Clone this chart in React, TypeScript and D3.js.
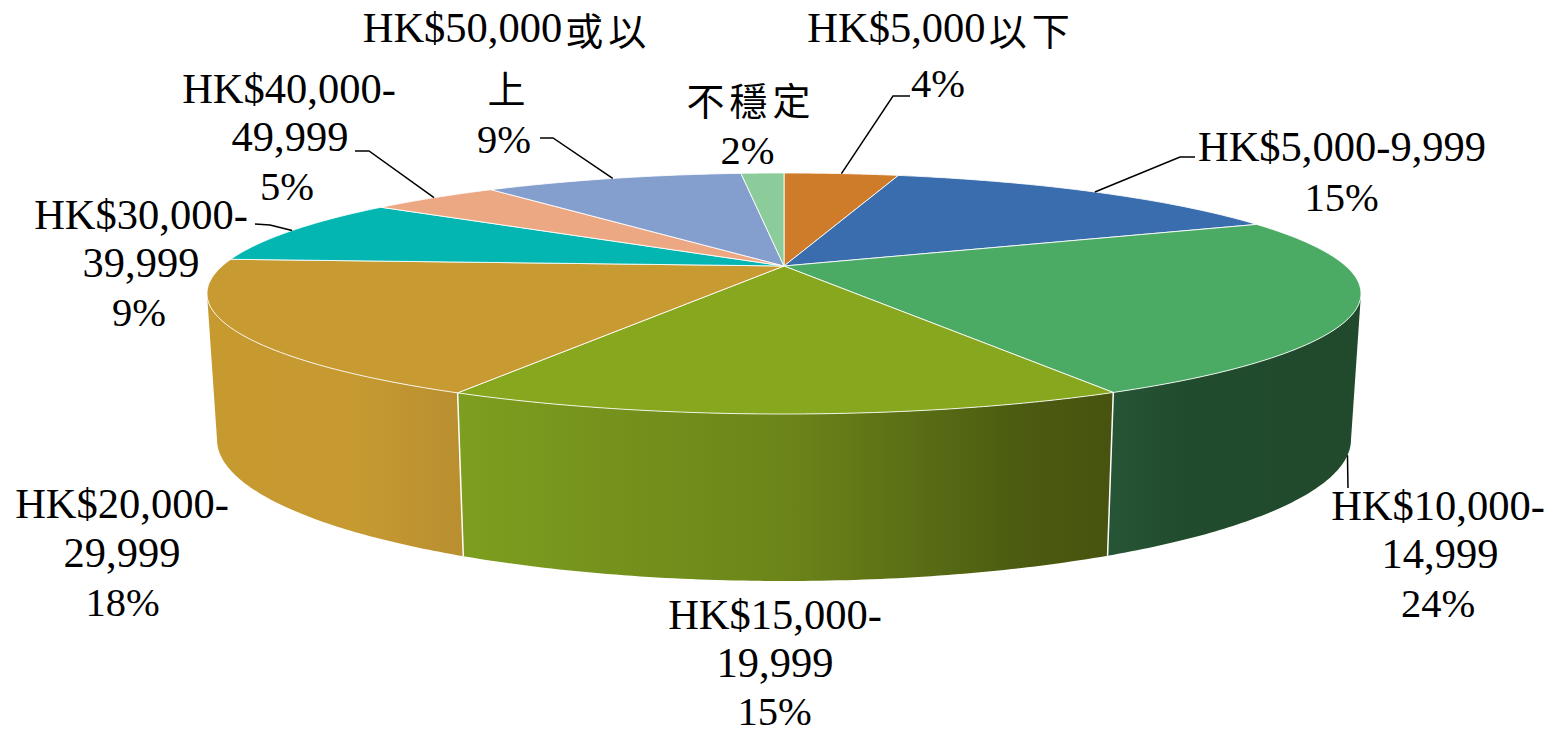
import React from "react";
import * as d3 from "d3";

const W = 1557;
const H = 731;

// Data, in pie order, clockwise from 12 o'clock
const categories = [
  "HK$5,000以下",
  "HK$5,000-9,999",
  "HK$10,000-14,999",
  "HK$15,000-19,999",
  "HK$20,000-29,999",
  "HK$30,000-39,999",
  "HK$40,000-49,999",
  "HK$50,000或以上",
  "不穩定",
];
const shares = [4.0, 14.5, 23.75, 15.42, 18.28, 8.95, 4.55, 9.05, 1.5];
const shareLabels = ["4%", "15%", "24%", "15%", "18%", "9%", "5%", "9%", "2%"];
const labelLines = [
  ["HK$5,000以下", "4%"],
  ["HK$5,000-9,999", "15%"],
  ["HK$10,000-", "14,999", "24%"],
  ["HK$15,000-", "19,999", "15%"],
  ["HK$20,000-", "29,999", "18%"],
  ["HK$30,000-", "39,999", "9%"],
  ["HK$40,000-", "49,999", "5%"],
  ["HK$50,000或以", "上", "9%"],
  ["不穩定", "2%"],
];

// Styles and layout
const topColors = ["#CE7C2A", "#3A6DAD", "#4BAB64", "#87A81E", "#C89B32", "#03B6B1", "#EBA882", "#849FCE", "#8CCB9A"];
const wallStops: Record<number, [number, string][]> = {
  2: [[0, "#255535"], [0.3, "#214B2D"], [1, "#204A2B"]],
  3: [[0, "#7D9E1F"], [0.5, "#6C8519"], [0.85, "#4C5C11"], [1, "#47530F"]],
  4: [[0, "#C79A30"], [0.6, "#C69A31"], [1, "#B98F30"]],
};
const labelX = [
  [941, 938],
  [1342, 1341.5],
  [1438, 1440, 1438],
  [775, 775, 774.5],
  [122, 122, 122.5],
  [141, 141, 139],
  [289, 290, 287],
  [507, 506, 504],
  [748, 747.5],
];
const labelY = [
  [42, 97],
  [161, 211],
  [520, 568, 617],
  [629, 677, 725],
  [518, 567, 616],
  [229, 277, 326],
  [103, 151, 200],
  [42, 100, 153],
  [112, 164],
];
const leaderEnds: ([number, number][] | null)[] = [
  [[893, 96], [910, 96]],
  [[1180, 157], [1195, 157]],
  [[1348, 488]],
  null,
  null,
  [[270, 225], [255, 224]],
  [[369, 151], [355, 151]],
  [[553, 138], [540, 138]],
  null,
];

const FONT_SIZE = 42.5;
const PCT_FONT_SIZE = 40.5;
const cx = 784;
const topEllipse = { cy: 293.5, rx: 577, ry: 120.5 };
const lowEllipse = { cy: 439.5, rx: 567, ry: 141.5 };
const k = 27.5 / 120.5; // perspective: moves the pie centre up inside its ellipse

function project(angle: number, e: { cy: number; rx: number; ry: number }, r = 1): [number, number] {
  const u = r * Math.sin(angle);
  const v = -r * Math.cos(angle);
  const d = 1 - k * v;
  return [cx + (e.rx * Math.sqrt(1 - k * k) * u) / d, e.cy + (e.ry * (v - k)) / d];
}

const arcs = d3.pie<number>().sort(null).value((d) => d)(shares);
const line = d3.line();
const sample = (a0: number, a1: number, e: typeof topEllipse) =>
  d3.range(0, 81).map((i) => project(a0 + ((a1 - a0) * i) / 80, e));

const frontStart = Math.acos(-k);
const frontEnd = 2 * Math.PI - frontStart;

function isCJK(ch: string) {
  return /[\u3400-\u9fff]/.test(ch);
}

function Label({ text, x, y }: { text: string; x: number; y: number }) {
  const runs: { s: string; cjk: boolean }[] = [];
  for (const ch of text) {
    const c = isCJK(ch);
    const last = runs[runs.length - 1];
    if (last && last.cjk === c) last.s += ch;
    else runs.push({ s: ch, cjk: c });
  }
  const size = text.endsWith("%") ? PCT_FONT_SIZE : FONT_SIZE;
  return (
    <text x={x} y={y} textAnchor="middle" fontSize={size} fill="#000" fontFamily="'Liberation Serif', serif">
      {runs.map((r, i) =>
        r.cjk ? (
          <tspan key={i} fontFamily="'Noto Sans CJK TC'" fontWeight={400} fontSize={38} letterSpacing={5} dx={3} dy={2.5}>
            {r.s}
          </tspan>
        ) : (
          <tspan key={i}>{r.s}</tspan>
        )
      )}
    </text>
  );
}

export default function App() {
  const centre = project(0, topEllipse, 0);
  return (
    <svg
      width={W}
      height={H}
      viewBox={`0 0 ${W} ${H}`}
      style={{ position: "absolute", left: 0, top: 0, background: "#fff" }}
      role="img"
      aria-label={categories.map((c, i) => `${c} ${shareLabels[i]}`).join(", ")}
    >
      <defs>
        {Object.entries(wallStops).map(([key, stops]) => {
          const i = +key;
          const a0 = Math.max(arcs[i].startAngle, frontStart);
          const a1 = Math.min(arcs[i].endAngle, frontEnd);
          const xs = [project(a0, topEllipse)[0], project(a1, topEllipse)[0]];
          return (
            <linearGradient key={i} id={`wall${i}`} gradientUnits="userSpaceOnUse" x1={Math.min(...xs)} x2={Math.max(...xs)} y1={0} y2={0}>
              {stops.map(([o, c], j) => (
                <stop key={j} offset={o} stopColor={c} />
              ))}
            </linearGradient>
          );
        })}
      </defs>

      {/* Front walls */}
      {arcs.map((a, i) => {
        const a0 = Math.max(a.startAngle, frontStart);
        const a1 = Math.min(a.endAngle, frontEnd);
        if (a1 <= a0) return null;
        const pts = [...sample(a0, a1, topEllipse), ...sample(a1, a0, lowEllipse)];
        return <path key={i} d={line(pts) + "Z"} fill={`url(#wall${i})`} />;
      })}
      {/* White seams between walls */}
      {arcs.map((a, i) => {
        if (a.startAngle <= frontStart || a.startAngle >= frontEnd) return null;
        return (
          <path
            key={i}
            d={line([project(a.startAngle, topEllipse), project(a.startAngle, lowEllipse)]) as string}
            stroke="#fff"
            strokeWidth={1.5}
            fill="none"
          />
        );
      })}

      {/* Top face */}
      {arcs.map((a, i) => (
        <path
          key={i}
          d={line([centre, ...sample(a.startAngle, a.endAngle, topEllipse)]) + "Z"}
          fill={topColors[i]}
          stroke="#fff"
          strokeOpacity={0.85}
          strokeWidth={1}
          strokeLinejoin="round"
        />
      ))}

      {/* Leader lines */}
      {arcs.map((a, i) => {
        const ends = leaderEnds[i];
        if (!ends) return null;
        const mid = (a.startAngle + a.endAngle) / 2;
        const onFront = mid > frontStart && mid < frontEnd;
        const start = project(mid, onFront ? lowEllipse : topEllipse);
        return <path key={i} d={line([start, ...ends]) as string} fill="none" stroke="#000" strokeWidth={1.5} />;
      })}

      {/* Labels */}
      {labelLines.map((lines, i) =>
        lines.map((t, j) => <Label key={`${i}-${j}`} text={t} x={labelX[i][j]} y={labelY[i][j]} />)
      )}
    </svg>
  );
}
